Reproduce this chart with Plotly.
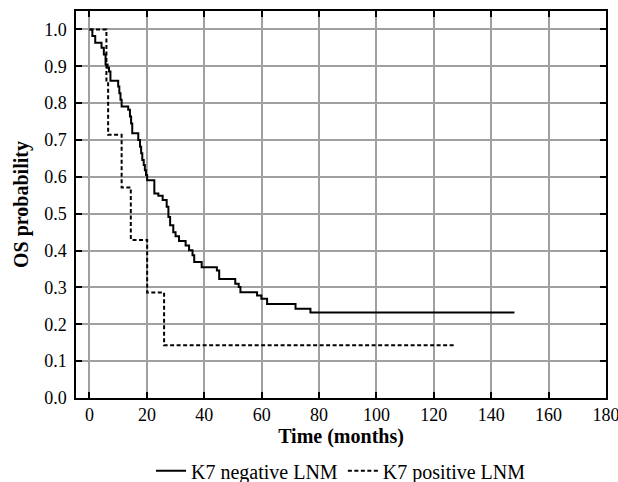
import plotly.graph_objects as go

# Kaplan-Meier step points (time in months, survival probability)
neg_t = [0, 1.0, 2.0, 4.2, 5.0, 5.6, 6.3, 6.8, 7.3, 10.0,
         10.4, 10.8, 11.2, 13.5, 14.1, 14.5, 14.9, 17.0, 17.6, 18.0,
         18.4, 18.9, 19.3, 19.7, 20.1, 22.6, 24.0, 25.5, 26.9, 27.5,
         28.1, 29.2, 30.0, 31.2, 33.5, 34.7, 35.9, 36.5, 39.1, 44.4,
         45.2, 50.8, 52.0, 52.6, 58.4, 59.9, 61.9, 71.8, 77.0, 148.1]
neg_s = [1.0, 0.982, 0.964, 0.950, 0.932, 0.905, 0.896, 0.886, 0.861, 0.845,
         0.827, 0.809, 0.791, 0.782, 0.764, 0.745, 0.718, 0.700, 0.682, 0.664,
         0.646, 0.632, 0.618, 0.605, 0.591, 0.555, 0.549, 0.537, 0.519, 0.491,
         0.469, 0.450, 0.439, 0.426, 0.414, 0.401, 0.387, 0.369, 0.355, 0.346,
         0.323, 0.310, 0.301, 0.287, 0.278, 0.269, 0.255, 0.242, 0.232, 0.232]

pos_t = [0, 5.9, 6.5, 11.2, 14.4, 20.1, 26.0, 127.7]
pos_s = [1.0, 0.857, 0.714, 0.571, 0.429, 0.286, 0.143, 0.143]

x_ticks = [0, 20, 40, 60, 80, 100, 120, 140, 160, 180]
y_ticks = [0.0, 0.1, 0.2, 0.3, 0.4, 0.5, 0.6, 0.7, 0.8, 0.9, 1.0]

FONT = "Liberation Serif"

fig = go.Figure()
fig.add_trace(go.Scatter(x=neg_t, y=neg_s, mode="lines", line_shape="hv",
                         line=dict(color="black", width=2),
                         name="K7 negative LNM"))
fig.add_trace(go.Scatter(x=pos_t, y=pos_s, mode="lines", line_shape="hv",
                         line=dict(color="black", width=2, dash="4px,2.5px"),
                         name="K7 positive LNM"))

axis_common = dict(
    showline=True, linecolor="black", linewidth=1.5, mirror="ticks",
    ticks="inside", ticklen=6, tickwidth=1.5, tickcolor="black",
    showgrid=True, gridcolor="#a0a0a0", gridwidth=1.5,
    zeroline=False, automargin=False, ticklabeloverflow="allow",
    tickfont=dict(family=FONT, size=18, color="black"),
)

fig.update_layout(
    width=618, height=482,
    margin=dict(l=76, r=12, t=11, b=84, autoexpand=False),
    paper_bgcolor="white", plot_bgcolor="white",
    font=dict(family=FONT, color="black"),
    xaxis=dict(range=[-4.7, 180], tickvals=x_ticks,
               ticktext=[str(v) for v in x_ticks],
               title=dict(text="<b>Time (months)</b>", standoff=0,
                          font=dict(family=FONT, size=20)),
               ticklabelstandoff=0, **axis_common),
    yaxis=dict(range=[0, 1.05], tickvals=y_ticks,
               ticktext=[f"{v:.1f}" for v in y_ticks],
               title=dict(text="<b>OS probability</b>", standoff=10,
                          font=dict(family=FONT, size=20)),
               ticklabelstandoff=4, **axis_common),
    legend=dict(orientation="h", x=0.5, xanchor="center", y=-0.188,
                yanchor="middle", font=dict(family=FONT, size=20),
                itemwidth=30, bgcolor="rgba(0,0,0,0)"),
    showlegend=True,
)

fig.write_html("out.html",
               config={"displayModeBar": False},
               post_script="document.body.style.margin='0';"
                           "document.body.style.overflow='hidden';")
